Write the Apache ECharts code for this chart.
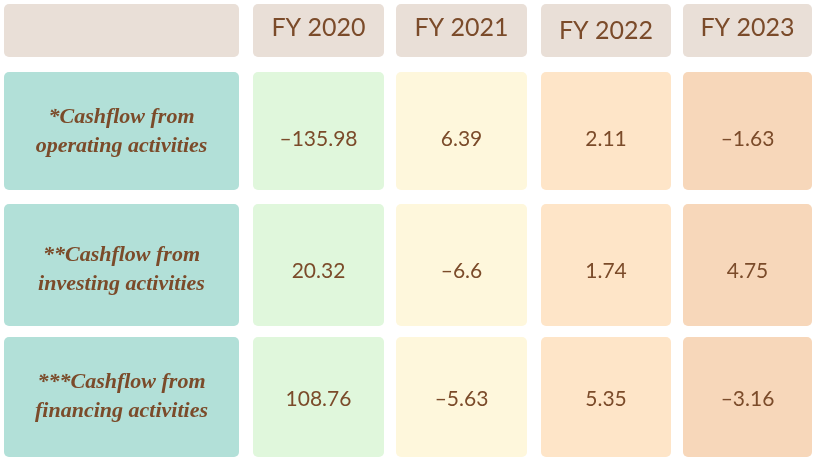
<!DOCTYPE html>
<html>
<head>
<meta charset="utf-8">
<script src="https://cdn.jsdelivr.net/npm/echarts@6/dist/echarts.min.js"></script>
<style>
  html, body { margin: 0; padding: 0; background: #fff; }
  #main { width: 820px; height: 462px; }
</style>
</head>
<body>
<div id="main"></div>
<script>
// table contents
const years = ['FY 2020', 'FY 2021', 'FY 2022', 'FY 2023'];
const rowLabels = [
  '*Cashflow from\noperating activities',
  '**Cashflow from\ninvesting activities',
  '***Cashflow from\nfinancing activities'
];
const fy2020 = [-135.98, 20.32, 108.76];
const fy2021 = [6.39, -6.6, -5.63];
const fy2022 = [2.11, 1.74, 5.35];
const fy2023 = [-1.63, 4.75, -3.16];
const yearValues = [fy2020, fy2021, fy2022, fy2023];

// layout (pixel space of the 820x462 canvas)
const colEdges = [[4, 239], [253, 384], [396, 527], [541, 671], [683, 812]];
const rowEdges = [[4, 57], [72, 190], [204, 326], [337, 457]];
const headerDy = [0, -2.5, -2.5, 0, -2.5];
const rowDy = [0, 8, 6, 2];
const labelDy = [0, 1, 5, 0];
const colFills = ['#B2E0D8', '#E0F7DC', '#FEF7DC', '#FEE5C8', '#F7D7BA'];
const headerFill = '#E9DFD7';
const ink = '#7B4B2A';

const fmt = v => (v < 0 ? '\u2013' : '') + Math.abs(v);

function cellRect(api, c, r) {
  const p0 = api.coord([colEdges[c][0], rowEdges[r][0]]);
  const p1 = api.coord([colEdges[c][1], rowEdges[r][1]]);
  return {
    x: Math.min(p0[0], p1[0]),
    y: Math.min(p0[1], p1[1]),
    width: Math.abs(p1[0] - p0[0]),
    height: Math.abs(p1[1] - p0[1]),
    r: 5
  };
}

function cell(api, c, r, fill, text, font, dy) {
  const s = cellRect(api, c, r);
  const children = [{ type: 'rect', shape: s, style: { fill: fill } }];
  if (text !== '') {
    children.push({
      type: 'text',
      x: s.x + s.width / 2,
      y: s.y + s.height / 2 + dy,
      style: Object.assign({
        text: text,
        fill: ink,
        align: 'center',
        verticalAlign: 'middle'
      }, font)
    });
  }
  return { type: 'group', children: children };
}

const headerData = [[0, 0]].concat(years.map((y, i) => [i + 1, 0]));
const labelData = rowLabels.map((t, i) => [0, i + 1]);
const bodyData = [];
yearValues.forEach((vals, ci) => {
  vals.forEach((v, ri) => bodyData.push([ci + 1, ri + 1, v]));
});

const chart = echarts.init(document.getElementById('main'));
chart.setOption({
  animation: false,
  grid: { left: 0, right: 0, top: 0, bottom: 0 },
  xAxis: { type: 'value', min: 0, max: 820, show: false },
  yAxis: { type: 'value', min: 0, max: 462, inverse: true, show: false },
  series: [
    {
      type: 'custom',
      data: headerData,
      renderItem: (params, api) => {
        const c = api.value(0);
        return cell(api, c, 0, headerFill, c === 0 ? '' : years[c - 1],
          { fontFamily: 'Lato', fontSize: 25 }, headerDy[c]);
      }
    },
    {
      type: 'custom',
      data: labelData,
      renderItem: (params, api) => {
        const r = api.value(1);
        return cell(api, 0, r, colFills[0], rowLabels[r - 1],
          { fontFamily: 'Liberation Serif', fontStyle: 'italic', fontWeight: 'bold',
            fontSize: 22, lineHeight: 29 }, labelDy[r]);
      }
    },
    {
      type: 'custom',
      data: bodyData,
      renderItem: (params, api) => {
        const c = api.value(0), r = api.value(1);
        return cell(api, c, r, colFills[c], fmt(api.value(2)),
          { fontFamily: 'Lato', fontSize: 21 }, rowDy[r]);
      }
    }
  ]
});
</script>
</body>
</html>
